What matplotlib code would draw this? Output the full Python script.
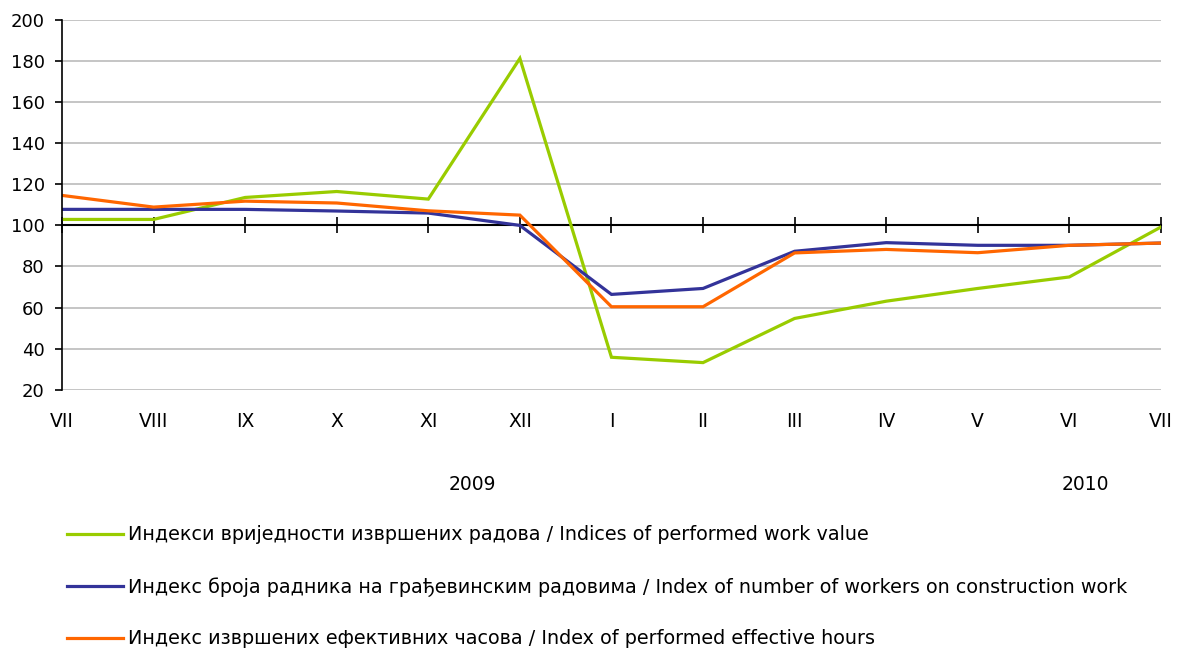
import numpy as np
import matplotlib
matplotlib.use('Agg')
import matplotlib.pyplot as plt
import matplotlib.transforms as mtransforms

months = ['VII', 'VIII', 'IX', 'X', 'XI', 'XII', 'I', 'II', 'III', 'IV', 'V', 'VI', 'VII']
value_idx = [102.9, 102.9, 113.6, 116.5, 112.8, 181.3, 35.8, 33.2, 54.7, 63.1, 69.3, 74.9, 99.2]
workers_idx = [107.8, 107.8, 107.8, 107.0, 106.0, 100.0, 66.4, 69.3, 87.4, 91.6, 90.3, 90.3, 91.4]
hours_idx = [114.6, 108.9, 111.8, 110.9, 107.1, 105.0, 60.4, 60.4, 86.6, 88.3, 86.7, 90.3, 91.4]
years = ['2009', '2010']
year_pos = [4.48, 11.17]  # position along month axis where year label sits

labels = ['Индекси вриједности извршених радова / Indices of performed work value',
          'Индекс броја радника на грађевинским радовима / Index of number of workers on construction work',
          'Индекс извршених ефективних часова / Index of performed effective hours']
colors = ['#99CC00', '#333399', '#FF6600']

plt.rcParams['font.family'] = ['DejaVu Sans']

fig = plt.figure(figsize=(11.81, 6.55), dpi=100)
ax = fig.add_axes([0.0525, 0.405, 0.9305, 0.5645])

x = np.arange(len(months))
for series, c, lab in zip([value_idx, workers_idx, hours_idx], colors, labels):
    ax.plot(x, series, color=c, lw=2.3, label=lab, solid_joinstyle='miter')

ax.set_xlim(0, len(months) - 1)
ax.set_ylim(20, 200)
ax.set_yticks(np.arange(20, 201, 20))
ax.yaxis.grid(True, color='#C0C0C0', lw=1.3)
ax.set_axisbelow(True)

for s in ['top', 'right']:
    ax.spines[s].set_visible(False)
ax.spines['left'].set_color('black')
ax.spines['left'].set_linewidth(1.2)
ax.spines['bottom'].set_position(('data', 100))
ax.spines['bottom'].set_linewidth(1.5)
ax.spines['bottom'].set_zorder(1.5)
ax.tick_params(axis='y', direction='out', length=5, width=1.2, labelsize=13, pad=7.5)
ax.tick_params(axis='x', direction='inout', length=12, width=1.2, labelbottom=False)
ax.set_xticks(x)

# month labels sit below the plot area
sec = ax.secondary_xaxis(0)
sec.set_xticks(x)
sec.set_xticklabels(months)
sec.tick_params(length=0, pad=16, labelsize=13.5)
sec.spines['bottom'].set_visible(False)

trans = mtransforms.blended_transform_factory(ax.transData, ax.transAxes)
for yr, pos in zip(years, year_pos):
    ax.text(pos, -0.255, yr, transform=trans, ha='center', va='center', fontsize=13.5)

fig.legend(loc='upper left', bbox_to_anchor=(0.0567, 0.198), frameon=False,
           fontsize=13.8, handlelength=2.9, handletextpad=0.27, labelspacing=1.7,
           borderpad=0, borderaxespad=0)

fig.savefig('out.png', dpi=100)
